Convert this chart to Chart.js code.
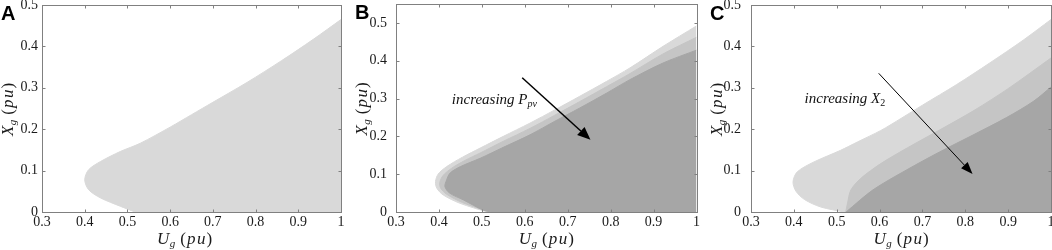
<!DOCTYPE html>
<html lang="en">
<head>
<meta charset="UTF-8">
<title>Stability regions</title>
<script src="https://cdn.jsdelivr.net/npm/chart.js@4.4.1/dist/chart.umd.min.js"></script>
<style>
    html, body { margin: 0; padding: 0; background: #fff; overflow: hidden; }
    body { width: 1052px; height: 250px; position: relative; }
    canvas { position: absolute; top: -15px; }
</style>
</head>
<body>
<canvas id="panelA" width="352" height="265" style="left:0px"></canvas>
<canvas id="panelB" width="352" height="265" style="left:350px"></canvas>
<canvas id="panelC" width="360" height="265" style="left:702px"></canvas>
<script>
    // axes
    const xTicks = [0.3, 0.4, 0.5, 0.6, 0.7, 0.8, 0.9, 1];
    const xTickLabels = ['0.3', '0.4', '0.5', '0.6', '0.7', '0.8', '0.9', '1'];
    const yTicks = [0, 0.1, 0.2, 0.3, 0.4, 0.5];
    const yTickLabels = ['0', '0.1', '0.2', '0.3', '0.4', '0.5'];

    // panel A - boundary of the stable region (Ug as a function of Xg)
    const aU = [0.518, 0.483, 0.437, 0.409, 0.400, 0.409, 0.437, 0.483, 0.530, 0.600, 0.650, 0.700, 0.780, 0.860, 0.935, 1.000];
    const aX = [0.000, 0.014, 0.034, 0.054, 0.078, 0.102, 0.122, 0.146, 0.166, 0.205, 0.235, 0.265, 0.313, 0.365, 0.417, 0.465];

    // panel B - increasing Ppv
    const bLightU = [0.512, 0.449, 0.410, 0.395, 0.392, 0.398, 0.418, 0.455, 0.496, 0.550, 0.612, 0.670, 0.728, 0.790, 0.845, 0.922, 1.000];
    const bLightX = [0.000, 0.023, 0.045, 0.063, 0.080, 0.100, 0.120, 0.145, 0.169, 0.200, 0.235, 0.270, 0.306, 0.345, 0.381, 0.438, 0.492];
    const bMidU = [0.517, 0.455, 0.418, 0.404, 0.402, 0.410, 0.430, 0.460, 0.496, 0.550, 0.612, 0.670, 0.728, 0.790, 0.845, 0.922, 1.000];
    const bMidX = [0.000, 0.025, 0.047, 0.063, 0.078, 0.097, 0.116, 0.136, 0.156, 0.187, 0.221, 0.256, 0.292, 0.331, 0.366, 0.418, 0.462];
    const bDarkU = [0.522, 0.503, 0.457, 0.425, 0.414, 0.418, 0.426, 0.450, 0.496, 0.550, 0.612, 0.670, 0.728, 0.790, 0.845, 0.922, 1.000];
    const bDarkX = [0.000, 0.005, 0.032, 0.050, 0.067, 0.085, 0.103, 0.120, 0.142, 0.171, 0.204, 0.240, 0.275, 0.314, 0.350, 0.394, 0.428];

    // panel C - increasing X2
    const cLightU = [0.517, 0.463, 0.425, 0.405, 0.398, 0.408, 0.447, 0.509, 0.548, 0.603, 0.650, 0.700, 0.780, 0.857, 0.935, 1.000];
    const cLightX = [0.000, 0.012, 0.030, 0.050, 0.073, 0.097, 0.121, 0.149, 0.169, 0.197, 0.226, 0.258, 0.308, 0.360, 0.415, 0.465];
    const cMidU = [0.521, 0.525, 0.533, 0.556, 0.603, 0.665, 0.740, 0.820, 0.900, 1.000];
    const cMidX = [0.000, 0.020, 0.053, 0.081, 0.117, 0.155, 0.198, 0.245, 0.298, 0.372];
    const cDarkU = [0.522, 0.584, 0.662, 0.740, 0.818, 0.896, 0.960, 1.000];
    const cDarkX = [0.000, 0.053, 0.101, 0.145, 0.186, 0.228, 0.268, 0.302];

    const LIGHT = '#d9d9d9';
    const MID = '#c5c5c5';
    const DARK = '#a6a6a6';
    const serif = '"Liberation Serif", "Times New Roman", serif';
    const sans = '"Liberation Sans", Arial, sans-serif';

    // each region is filled from its left boundary to Ug = 1
    function region(us, xs, color) {
        return {
            data: us.map((u, i) => ({x: u, y: xs[i]})),
            fill: {value: 1},
            backgroundColor: color,
            borderColor: color,
            borderWidth: 1,
            pointRadius: 0,
            tension: 0.3
        };
    }

    function richText(ctx, runs, x, y, align) {
        let w = 0;
        runs.forEach(r => { ctx.font = r.font; r.w = ctx.measureText(r.t).width + (r.gap || 0); w += r.w; });
        let cx = align === 'center' ? x - w / 2 : x;
        runs.forEach(r => { ctx.font = r.font; ctx.fillText(r.t, cx, y + (r.dy || 0)); cx += r.w; });
    }

    function titleRuns(letter) {
        return [
            {t: letter, font: 'italic 17px ' + serif, gap: 0.5},
            {t: 'g', font: 'italic 11px ' + serif, dy: 3, gap: 5},
            {t: '(', font: '17px ' + serif, gap: 1},
            {t: 'p', font: 'italic 17px ' + serif, gap: 1.5},
            {t: 'u', font: 'italic 17px ' + serif, gap: 1},
            {t: ')', font: '17px ' + serif}
        ];
    }

    function arrow(ctx, x0, y0, x1, y1, lw, hl, hw) {
        const ang = Math.atan2(y1 - y0, x1 - x0);
        const bx = x1 - hl * Math.cos(ang), by = y1 - hl * Math.sin(ang);
        ctx.lineWidth = lw;
        ctx.beginPath(); ctx.moveTo(x0, y0); ctx.lineTo(bx, by); ctx.stroke();
        ctx.beginPath();
        ctx.moveTo(x1, y1);
        ctx.lineTo(bx + hw * Math.sin(ang), by - hw * Math.cos(ang));
        ctx.lineTo(bx - hw * Math.sin(ang), by + hw * Math.cos(ang));
        ctx.closePath(); ctx.fill();
    }

    // frame, inward ticks, axis titles, panel letter, annotation
    const decor = {
        id: 'decor',
        afterDraw(chart, args, o) {
            const {ctx, chartArea: a, scales: {x, y}} = chart;
            ctx.save();
            ctx.strokeStyle = '#808080';
            ctx.lineWidth = 1;
            const l = Math.round(a.left) + 0.5, r = Math.round(a.right) + 0.5;
            const t = Math.round(a.top) + 0.5, b = Math.round(a.bottom) + 0.5;
            ctx.strokeRect(l, t, r - l, b - t);
            ctx.beginPath();
            xTicks.forEach(v => {
                const px = Math.round(x.getPixelForValue(v)) + 0.5;
                ctx.moveTo(px, b); ctx.lineTo(px, b - 3);
                ctx.moveTo(px, t); ctx.lineTo(px, t + 3);
            });
            yTicks.forEach(v => {
                const py = Math.round(y.getPixelForValue(v)) + 0.5;
                ctx.moveTo(l, py); ctx.lineTo(l + 3, py);
                ctx.moveTo(r, py); ctx.lineTo(r - 3, py);
            });
            ctx.stroke();

            ctx.fillStyle = '#1a1a1a';
            ctx.textBaseline = 'alphabetic';
            ctx.textAlign = 'left';
            richText(ctx, titleRuns('U'), (a.left + a.right) / 2 + o.xTitleShift, a.bottom + 32, 'center');
            ctx.save();
            ctx.translate(a.left - 29, (a.top + a.bottom) / 2 + 1);
            ctx.rotate(-Math.PI / 2);
            richText(ctx, titleRuns('X'), 0, 0, 'center');
            ctx.restore();

            ctx.fillStyle = '#000';
            ctx.font = 'bold 20px ' + sans;
            ctx.fillText(o.letter, a.left - 41, a.top + 14.5);

            if (o.note) {
                ctx.fillStyle = '#111';
                richText(ctx, o.note.runs, x.getPixelForValue(o.note.at[0]), y.getPixelForValue(o.note.at[1]), 'left');
                ctx.strokeStyle = '#000';
                ctx.fillStyle = '#000';
                const p = o.note.arrow;
                arrow(ctx, x.getPixelForValue(p[0]), y.getPixelForValue(p[1]),
                    x.getPixelForValue(p[2]), y.getPixelForValue(p[3]), o.note.lw, o.note.hl, o.note.hw);
            }
            ctx.restore();
        }
    };

    // canvas top sits at -15px; chart box given in page pixels
    function makePanel(id, box, datasets, decorOpts) {
        const canvasLeft = box.canvasLeft, canvasW = box.canvasW;
        return new Chart(document.getElementById(id), {
            type: 'line',
            data: {datasets: datasets},
            options: {
                responsive: false,
                animation: false,
                events: [],
                indexAxis: 'y',
                layout: {padding: {top: box.top + 15, right: canvasLeft + canvasW - box.right, left: 0, bottom: 0}},
                plugins: {legend: {display: false}, tooltip: {enabled: false}, decor: decorOpts},
                scales: {
                    x: {
                        type: 'linear', min: 0.3, max: 1,
                        afterBuildTicks: s => { s.ticks = xTicks.map(v => ({value: v})); },
                        afterFit: s => { s.height = 250 - box.bottom; },
                        grid: {display: false, drawTicks: false},
                        border: {display: false},
                        ticks: {
                            callback: (v, i) => xTickLabels[i],
                            autoSkip: false, maxRotation: 0, padding: 2,
                            color: '#1a1a1a', font: {family: serif, size: 14}
                        }
                    },
                    y: {
                        type: 'linear', min: 0, max: box.ymax,
                        afterBuildTicks: s => { s.ticks = yTicks.map(v => ({value: v})); },
                        afterFit: s => { s.width = box.left - canvasLeft; },
                        grid: {display: false, drawTicks: false},
                        border: {display: false},
                        ticks: {
                            callback: (v, i) => yTickLabels[i],
                            padding: box.yPad,
                            color: '#1a1a1a', font: {family: serif, size: 14}
                        }
                    }
                }
            },
            plugins: [decor]
        });
    }

    makePanel('panelA',
        {canvasLeft: 0, canvasW: 352, left: 42, right: 341, top: 5, bottom: 212, ymax: 0.5, yPad: 4},
        [region(aU, aX, LIGHT)],
        {letter: 'A', xTitleShift: -7, note: null});

    makePanel('panelB',
        {canvasLeft: 350, canvasW: 352, left: 396, right: 697, top: 4, bottom: 212, ymax: 0.55, yPad: 9},
        [region(bDarkU, bDarkX, DARK), region(bMidU, bMidX, MID), region(bLightU, bLightX, LIGHT)],
        {
            letter: 'B', xTitleShift: 0,
            note: {
                runs: [
                    {t: 'increasing ', font: 'italic 15px ' + serif},
                    {t: 'P', font: 'italic 15px ' + serif},
                    {t: 'pv', font: 'italic 10px ' + serif, dy: 3}
                ],
                at: [0.43, 0.285],
                arrow: [0.594, 0.355, 0.753, 0.191],
                lw: 1.5, hl: 13, hw: 5.5
            }
        });

    makePanel('panelC',
        {canvasLeft: 702, canvasW: 360, left: 751, right: 1051, top: 5, bottom: 212, ymax: 0.5, yPad: 10},
        [region(cDarkU, cDarkX, DARK), region(cMidU, cMidX, MID), region(cLightU, cLightX, LIGHT)],
        {
            letter: 'C', xTitleShift: 0,
            note: {
                runs: [
                    {t: 'increasing ', font: 'italic 15px ' + serif},
                    {t: 'X', font: 'italic 15px ' + serif},
                    {t: '2', font: '10px ' + serif, dy: 3}
                ],
                at: [0.425, 0.263],
                arrow: [0.598, 0.335, 0.817, 0.092],
                lw: 1, hl: 12, hw: 4.5
            }
        });
</script>
</body>
</html>
